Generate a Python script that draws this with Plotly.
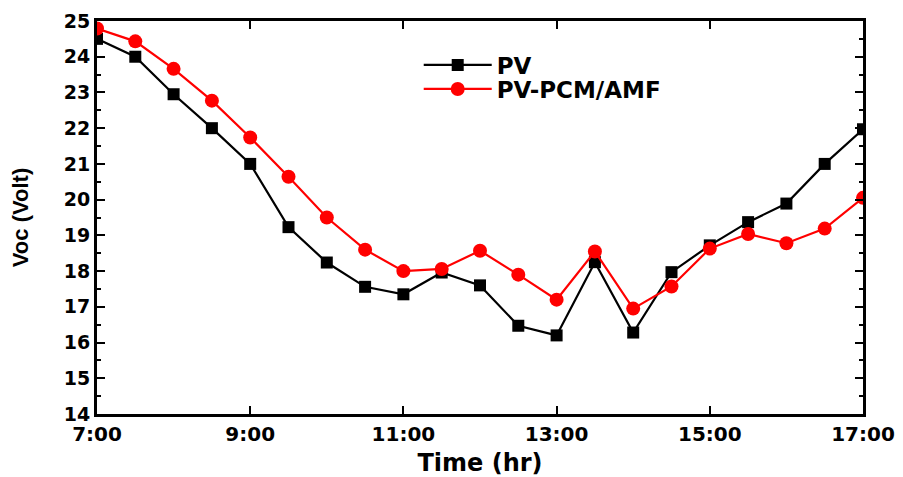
import plotly.graph_objects as go

# Sampling times (every half hour) and open-circuit voltage readings
times = ["7:00", "7:30", "8:00", "8:30", "9:00", "9:30", "10:00", "10:30",
         "11:00", "11:30", "12:00", "12:30", "13:00", "13:30", "14:00",
         "14:30", "15:00", "15:30", "16:00", "16:30", "17:00"]
voc_pv = [24.5, 24.0, 22.95, 22.0, 21.0, 19.23, 18.24, 17.56, 17.35, 17.96,
          17.6, 16.47, 16.2, 18.25, 16.28, 17.97, 18.72, 19.37, 19.89, 21.0, 21.97]
voc_pcm = [24.79, 24.43, 23.66, 22.77, 21.74, 20.64, 19.5, 18.6, 18.0, 18.06,
           18.57, 17.9, 17.2, 18.55, 16.95, 17.57, 18.63, 19.04, 18.78, 19.19, 20.05]

tick_hours = [7, 9, 11, 13, 15, 17]
tick_labels = ["7:00", "9:00", "11:00", "13:00", "15:00", "17:00"]


def to_hours(t):
    h, m = t.split(":")
    return int(h) + int(m) / 60.0


x = [to_hours(t) for t in times]

wide = "DejaVu Sans, Verdana, sans-serif"
narrow = "Liberation Sans, Arial, sans-serif"

fig = go.Figure()
fig.add_trace(go.Scatter(
    x=x, y=voc_pv, name="PV", mode="lines+markers", legend="legend",
    line=dict(color="black", width=2.2),
    marker=dict(symbol="square", size=12, color="black"),
))
fig.add_trace(go.Scatter(
    x=x, y=voc_pcm, name="PV-PCM/AMF", mode="lines+markers", legend="legend2",
    line=dict(color="#ff0000", width=2.2),
    marker=dict(symbol="circle", size=14, color="#ff0000"),
))

legend_style = dict(
    xanchor="left", yanchor="middle", bgcolor="rgba(0,0,0,0)", itemwidth=68,
    font=dict(family=wide, size=23, color="black", weight="bold"),
)

fig.update_layout(
    width=903, height=477,
    margin=dict(l=97, r=40, t=21, b=63),
    paper_bgcolor="white", plot_bgcolor="white",
    font=dict(family=wide, color="black", size=18),
    showlegend=True,
    legend=dict(x=0.42, y=0.888, **legend_style),
    legend2=dict(x=0.42, y=0.827, **legend_style),
    xaxis=dict(
        range=[7, 17], tickvals=tick_hours, ticktext=tick_labels,
        automargin=False,
        showgrid=False, zeroline=False,
        showline=True, linecolor="black", linewidth=3, mirror="ticks",
        ticks="inside", ticklen=8, tickwidth=2, tickcolor="black",
        tickfont=dict(family=wide, size=20, color="black", weight="bold"),
        title=dict(text="Time (hr)", standoff=10,
                   font=dict(family=wide, size=24, color="black", weight="bold")),
    ),
    yaxis=dict(
        range=[14, 25], dtick=1, tick0=14,
        automargin=False,
        showgrid=False, zeroline=False,
        showline=True, linecolor="black", linewidth=3, mirror="ticks",
        ticks="inside", ticklen=8, tickwidth=2, tickcolor="black",
        minor=dict(dtick=0.5, ticks="inside", ticklen=4, tickwidth=2, tickcolor="black"),
        tickfont=dict(family=wide, size=19, color="black", weight="bold"),
        title=dict(text="Voc (Volt)", standoff=30,
                   font=dict(family=narrow, size=22, color="black", weight="bold")),
    ),
)

fig.write_html("out.html")
